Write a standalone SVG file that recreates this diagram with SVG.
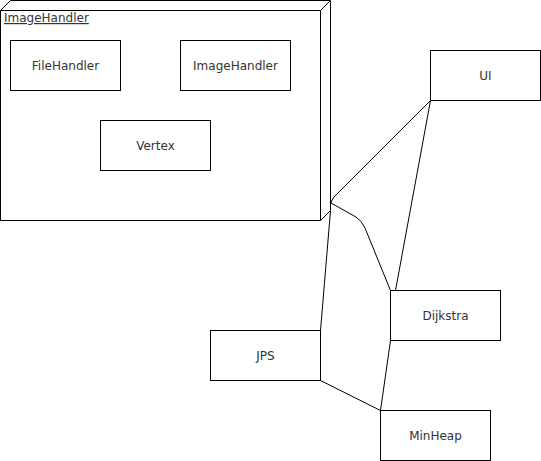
<svg xmlns="http://www.w3.org/2000/svg" width="541" height="461" viewBox="0 0 541 461">
<style>
.box{fill:#fff;stroke:#000;stroke-width:1}
.t{font-family:"DejaVu Sans",Verdana,sans-serif;font-size:12px;fill:#333;text-anchor:middle;dominant-baseline:central}
.c{fill:none;stroke:#000;stroke-width:1}
</style>
<rect width="541" height="461" fill="#fff"/>
<g id="ImageHandlerNode">
<path class="box" d="M0.5,10.5 L10.5,0.5 L330.5,0.5 L330.5,210.5 L320.5,220.5 L0.5,220.5 Z"/>
<path class="c" d="M0.5,10.5 L320.5,10.5 L330.5,0.5 M320.5,10.5 L320.5,220.5"/>
<text x="4" y="22" style="font-family:'DejaVu Sans',Verdana,sans-serif;font-size:12px;fill:#333;text-decoration:underline">ImageHandler</text>
</g>
<g id="FileHandler"><rect class="box" x="10.5" y="40.5" width="110" height="50"/><text class="t" x="65.5" y="65.5">FileHandler</text></g>
<g id="ImageHandler"><rect class="box" x="180.5" y="40.5" width="110" height="50"/><text class="t" x="235.5" y="65.5">ImageHandler</text></g>
<g id="Vertex"><rect class="box" x="100.5" y="120.5" width="110" height="50"/><text class="t" x="155.5" y="145.5">Vertex</text></g>
<g id="connectors">
<path class="c" d="M331,203 Q331.5,200 334,197 L430.5,100.5"/>
<path class="c" d="M331,203 L356,217 Q362,221 365,228 L390.5,290.5"/>
<path class="c" d="M430.5,100.5 L395.5,290.5"/>
<path class="c" d="M330.5,210.5 L320.5,330.5"/>
<path class="c" d="M320.5,380.5 L380.5,410.5"/>
<path class="c" d="M390.5,340.5 L380.5,410.5"/>
</g>
<g id="UI"><rect class="box" x="430.5" y="50.5" width="110" height="50"/><text class="t" x="485.5" y="75.5">UI</text></g>
<g id="Dijkstra"><rect class="box" x="390.5" y="290.5" width="110" height="50"/><text class="t" x="445.5" y="315.5">Dijkstra</text></g>
<g id="JPS"><rect class="box" x="210.5" y="330.5" width="110" height="50"/><text class="t" x="265.5" y="355.5">JPS</text></g>
<g id="MinHeap"><rect class="box" x="380.5" y="410.5" width="110" height="50"/><text class="t" x="435.5" y="435.5">MinHeap</text></g>
</svg>
